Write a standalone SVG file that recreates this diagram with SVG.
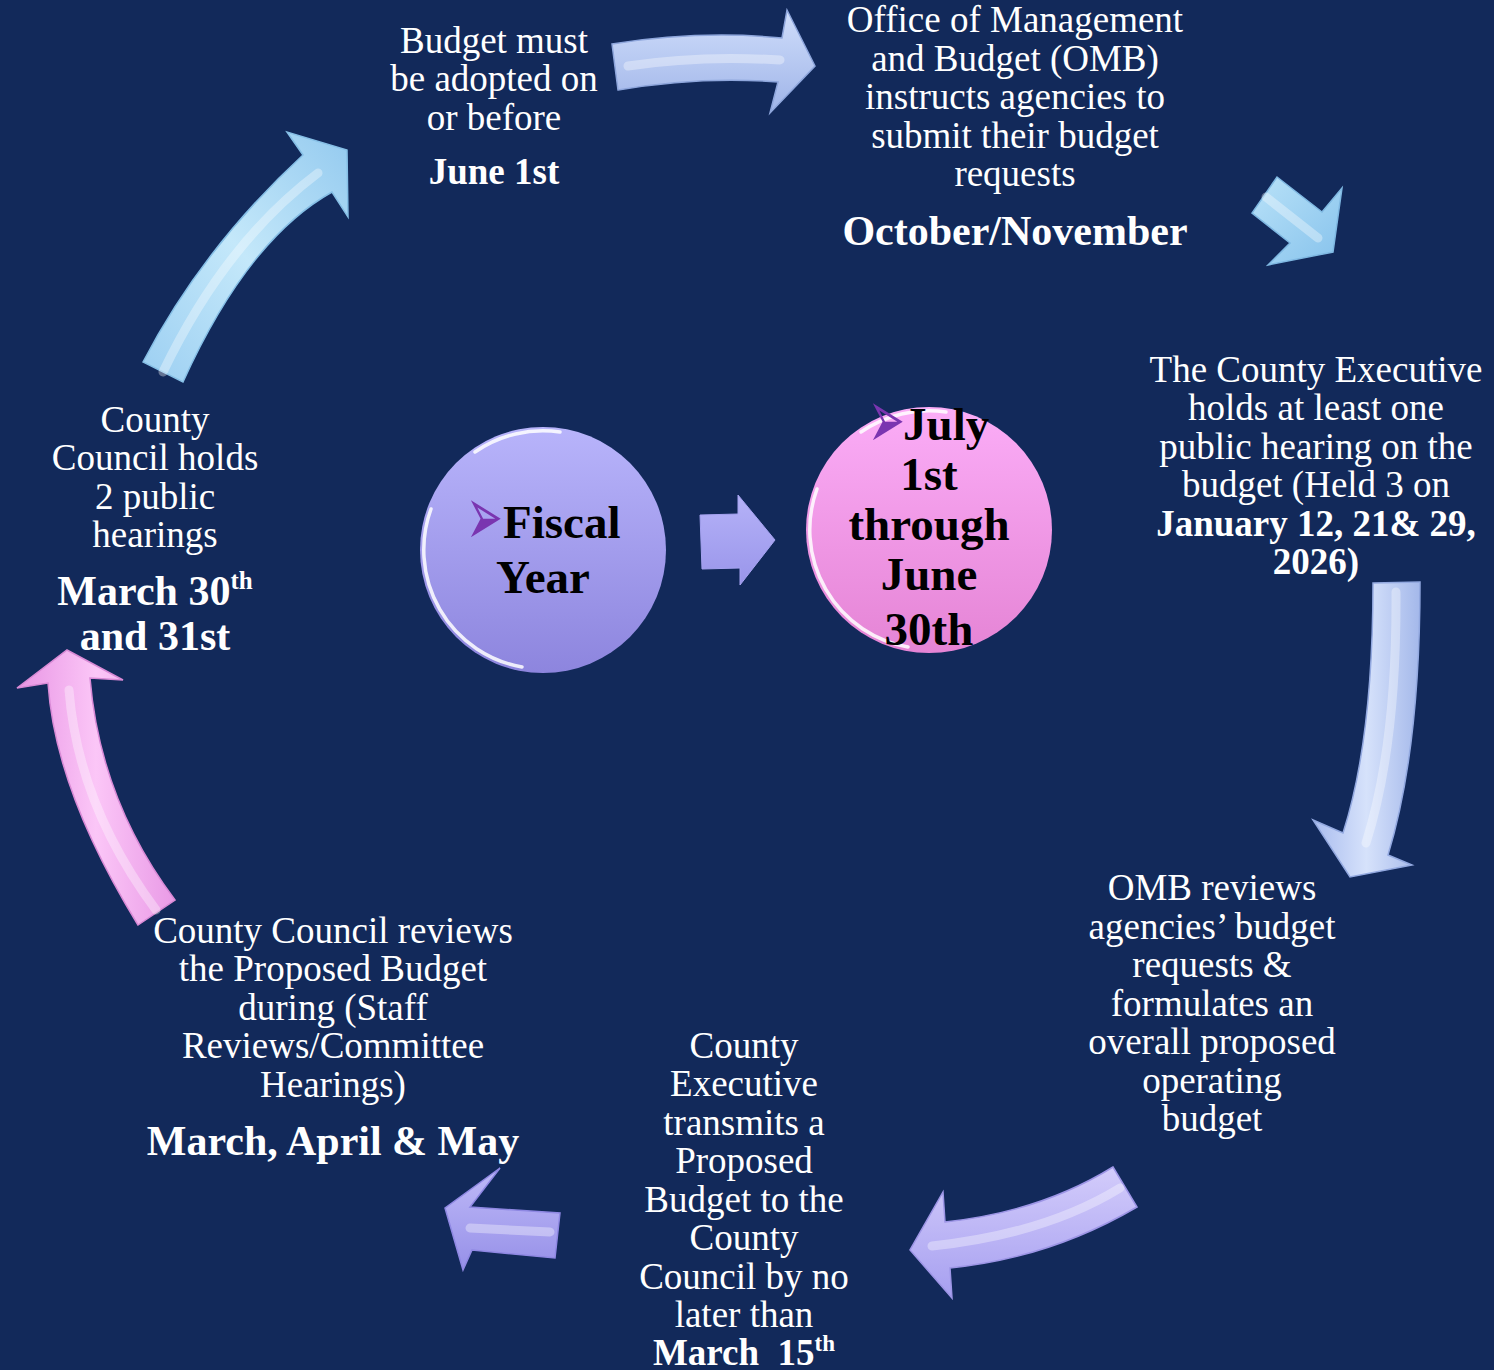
<svg xmlns="http://www.w3.org/2000/svg" width="1494" height="1370" viewBox="0 0 1494 1370">
<defs>
<style>
.t{font-family:"Liberation Serif","Times New Roman",serif;font-size:37px;fill:#fff;text-anchor:middle}
.b{font-weight:bold}
.b42{font-weight:bold;font-size:42px}
.c{font-family:"Liberation Serif","Times New Roman",serif;font-size:47px;font-weight:bold;fill:#000;text-anchor:middle}
.bul{font-family:"DejaVu Sans",sans-serif;font-size:40px;fill:#7a35b0}
.arr{stroke-width:1.5;stroke-linejoin:miter}
.hl{fill:none;stroke:#fff;stroke-opacity:.35;stroke-width:9;stroke-linecap:round}
.rim{fill:none;stroke:#fff;stroke-width:3.5;stroke-opacity:.85;stroke-linecap:round}
</style>
<linearGradient id="gBlue" x1="0" y1="0" x2="0" y2="1"><stop offset="0" stop-color="#d0defb"/><stop offset="1" stop-color="#9fb4e8"/></linearGradient>
<linearGradient id="gSky" x1="0" y1="0" x2="1" y2="1"><stop offset="0" stop-color="#b9e2f8"/><stop offset="1" stop-color="#86c2ec"/></linearGradient>
<linearGradient id="gRight" x1="0" y1="0" x2="1" y2="0"><stop offset="0" stop-color="#a9bcee"/><stop offset=".5" stop-color="#d6e2fb"/><stop offset="1" stop-color="#a4b8ea"/></linearGradient>
<linearGradient id="gLav" x1="0" y1="0" x2="0" y2="1"><stop offset="0" stop-color="#d3ccfb"/><stop offset="1" stop-color="#a69ff0"/></linearGradient>
<linearGradient id="gLav2" x1="0" y1="0" x2="0" y2="1"><stop offset="0" stop-color="#bfbaf8"/><stop offset="1" stop-color="#9690e8"/></linearGradient>
<linearGradient id="gPink" x1="0" y1="0" x2="1" y2="0"><stop offset="0" stop-color="#e895e4"/><stop offset=".5" stop-color="#fbc6f7"/><stop offset="1" stop-color="#e99ae6"/></linearGradient>
<linearGradient id="gSky2" x1="0" y1="1" x2="1" y2="0"><stop offset="0" stop-color="#9ccff2"/><stop offset=".5" stop-color="#c4e8fa"/><stop offset="1" stop-color="#94caef"/></linearGradient>
<linearGradient id="gCirc1" x1="0" y1="0" x2="0" y2="1"><stop offset="0" stop-color="#b8b4fb"/><stop offset="1" stop-color="#8d85de"/></linearGradient>
<linearGradient id="gCirc2" x1="0" y1="0" x2="0" y2="1"><stop offset="0" stop-color="#fbadf7"/><stop offset="1" stop-color="#e584d5"/></linearGradient>
<linearGradient id="gMid" x1="0" y1="0" x2="0" y2="1"><stop offset="0" stop-color="#b5b2f8"/><stop offset="1" stop-color="#9995ea"/></linearGradient>
</defs>
<rect width="1494" height="1370" fill="#12295a"/>

<g id="connectors">
<g id="arrow-top">
<path class="arr" d="M612,44 Q700,30 782,38 L787,10 L815,66 L770,113 L778,82 Q700,76 618,90 Z" fill="url(#gBlue)" stroke="#8ea6dc"/>
<path class="hl" d="M628,66 Q700,55 780,60"/>
</g>
<g id="arrow-topright">
<path class="arr" d="M1277,177 L1322,212 L1342,188 L1333,252 L1268,265 L1290,243 L1252,213 Z" fill="url(#gSky)" stroke="#7fb8e2"/>
<path class="hl" d="M1266,197 L1318,238"/>
</g>
<g id="arrow-right">
<path class="arr" d="M1373,583 L1420,582 Q1420,750 1388,855 L1412,865 L1350,877 L1313,820 L1343,833 Q1373,740 1373,583 Z" fill="url(#gRight)" stroke="#93a9e0"/>
<path class="hl" d="M1396,592 Q1397,745 1366,843"/>
</g>
<g id="arrow-bottomright">
<path class="arr" d="M1113,1167 L1137,1207 Q1050,1258 950,1268 L952,1298 L910,1250 L943,1192 L945,1222 Q1040,1212 1113,1167 Z" fill="url(#gLav)" stroke="#9d95e6"/>
<path class="hl" d="M1120,1188 Q1045,1234 932,1246"/>
</g>
<g id="arrow-bottomleft">
<path class="arr" d="M560,1213 L555,1258 L472,1250 L463,1270 L445,1208 L500,1168 L470,1207 Z" fill="url(#gLav2)" stroke="#8f88e3"/>
<path class="hl" d="M550,1232 L470,1228"/>
</g>
<g id="arrow-left">
<path class="arr" d="M67,650 L123,680 L90,678 Q100,800 175,900 L138,925 Q55,790 48,683 L17,688 Z" fill="url(#gPink)" stroke="#d98ad6"/>
<path class="hl" d="M69,690 Q78,805 156,910"/>
</g>
<g id="arrow-topleft">
<path class="arr" d="M143,362 Q203,247 303,155 L287,132 L347,150 L348,217 L332,192 Q248,239 183,382 Z" fill="url(#gSky2)" stroke="#86bfe6"/>
<path class="hl" d="M163,372 Q225,243 318,173"/>
</g>
<g id="arrow-center">
<path d="M700,515 L738,514 L738,495 L775,540 L740,585 L740,568 L702,569 Z" fill="url(#gMid)" stroke="#a5a2f0" stroke-width="1"/>
</g>
</g>

<g id="node-fiscal">
<circle cx="543" cy="550" r="123" fill="url(#gCirc1)"/>
<path class="rim" d="M431,509 A119,119 0 0 0 522,667"/>
<path class="rim" d="M475,452 A119,119 0 0 1 560,432" stroke-opacity=".45"/>
<text class="bul" transform="translate(466,545) scale(1.1,2.1)">➢</text>
<text class="c" x="503" y="538" style="text-anchor:start">Fiscal</text>
<text class="c" x="543" y="593">Year</text>
</g>

<g id="node-july">
<circle cx="929" cy="530" r="123" fill="url(#gCirc2)"/>
<path class="rim" d="M817,489 A119,119 0 0 0 908,647"/>
<path class="rim" d="M861,432 A119,119 0 0 1 946,412" stroke-opacity=".45"/>
<text class="bul" transform="translate(868,448) scale(1.1,2.1)">➢</text>
<text class="c" x="903" y="440" style="text-anchor:start">July</text>
<text class="c" x="929" y="490">1st</text>
<text class="c" x="929" y="540">through</text>
<text class="c" x="929" y="590">June</text>
<text class="c" x="929" y="645">30th</text>
</g>

<g id="node-june1">
<text class="t" x="494" y="53">Budget must</text>
<text class="t" x="494" y="91">be adopted on</text>
<text class="t" x="494" y="130">or before</text>
<text class="t b" x="494" y="184">June 1st</text>
</g>

<g id="node-omb">
<text class="t" x="1015" y="32">Office of Management</text>
<text class="t" x="1015" y="71">and Budget (OMB)</text>
<text class="t" x="1015" y="109">instructs agencies to</text>
<text class="t" x="1015" y="148">submit their budget</text>
<text class="t" x="1015" y="186">requests</text>
<text class="t b42" x="1015" y="245">October/November</text>
</g>

<g id="node-exec-hearing">
<text class="t" x="1316" y="382">The County Executive</text>
<text class="t" x="1316" y="420">holds at least one</text>
<text class="t" x="1316" y="459">public hearing on the</text>
<text class="t" x="1316" y="497">budget (Held 3 on</text>
<text class="t b" x="1316" y="536">January 12, 21&amp; 29,</text>
<text class="t b" x="1316" y="574">2026)</text>
</g>

<g id="node-omb-review">
<text class="t" x="1212" y="900">OMB reviews</text>
<text class="t" x="1212" y="939">agencies’ budget</text>
<text class="t" x="1212" y="977">requests &amp;</text>
<text class="t" x="1212" y="1016">formulates an</text>
<text class="t" x="1212" y="1054">overall proposed</text>
<text class="t" x="1212" y="1093">operating</text>
<text class="t" x="1212" y="1131">budget</text>
</g>

<g id="node-transmit">
<text class="t" x="744" y="1058">County</text>
<text class="t" x="744" y="1096">Executive</text>
<text class="t" x="744" y="1135">transmits a</text>
<text class="t" x="744" y="1173">Proposed</text>
<text class="t" x="744" y="1212">Budget to the</text>
<text class="t" x="744" y="1250">County</text>
<text class="t" x="744" y="1289">Council by no</text>
<text class="t" x="744" y="1327">later than</text>
<text class="t b" x="744" y="1365" xml:space="preserve">March  15<tspan font-size="23" dy="-14">th</tspan></text>
</g>

<g id="node-council-review">
<text class="t" x="333" y="943">County Council reviews</text>
<text class="t" x="333" y="981">the Proposed Budget</text>
<text class="t" x="333" y="1020">during (Staff</text>
<text class="t" x="333" y="1058">Reviews/Committee</text>
<text class="t" x="333" y="1097">Hearings)</text>
<text class="t b42" x="333" y="1155">March, April &amp; May</text>
</g>

<g id="node-council-hearings">
<text class="t" x="155" y="432">County</text>
<text class="t" x="155" y="470">Council holds</text>
<text class="t" x="155" y="509">2 public</text>
<text class="t" x="155" y="547">hearings</text>
<text class="t b42" x="155" y="605">March 30<tspan font-size="25" dy="-16">th</tspan></text>
<text class="t b42" x="155" y="650">and 31st</text>
</g>
</svg>
